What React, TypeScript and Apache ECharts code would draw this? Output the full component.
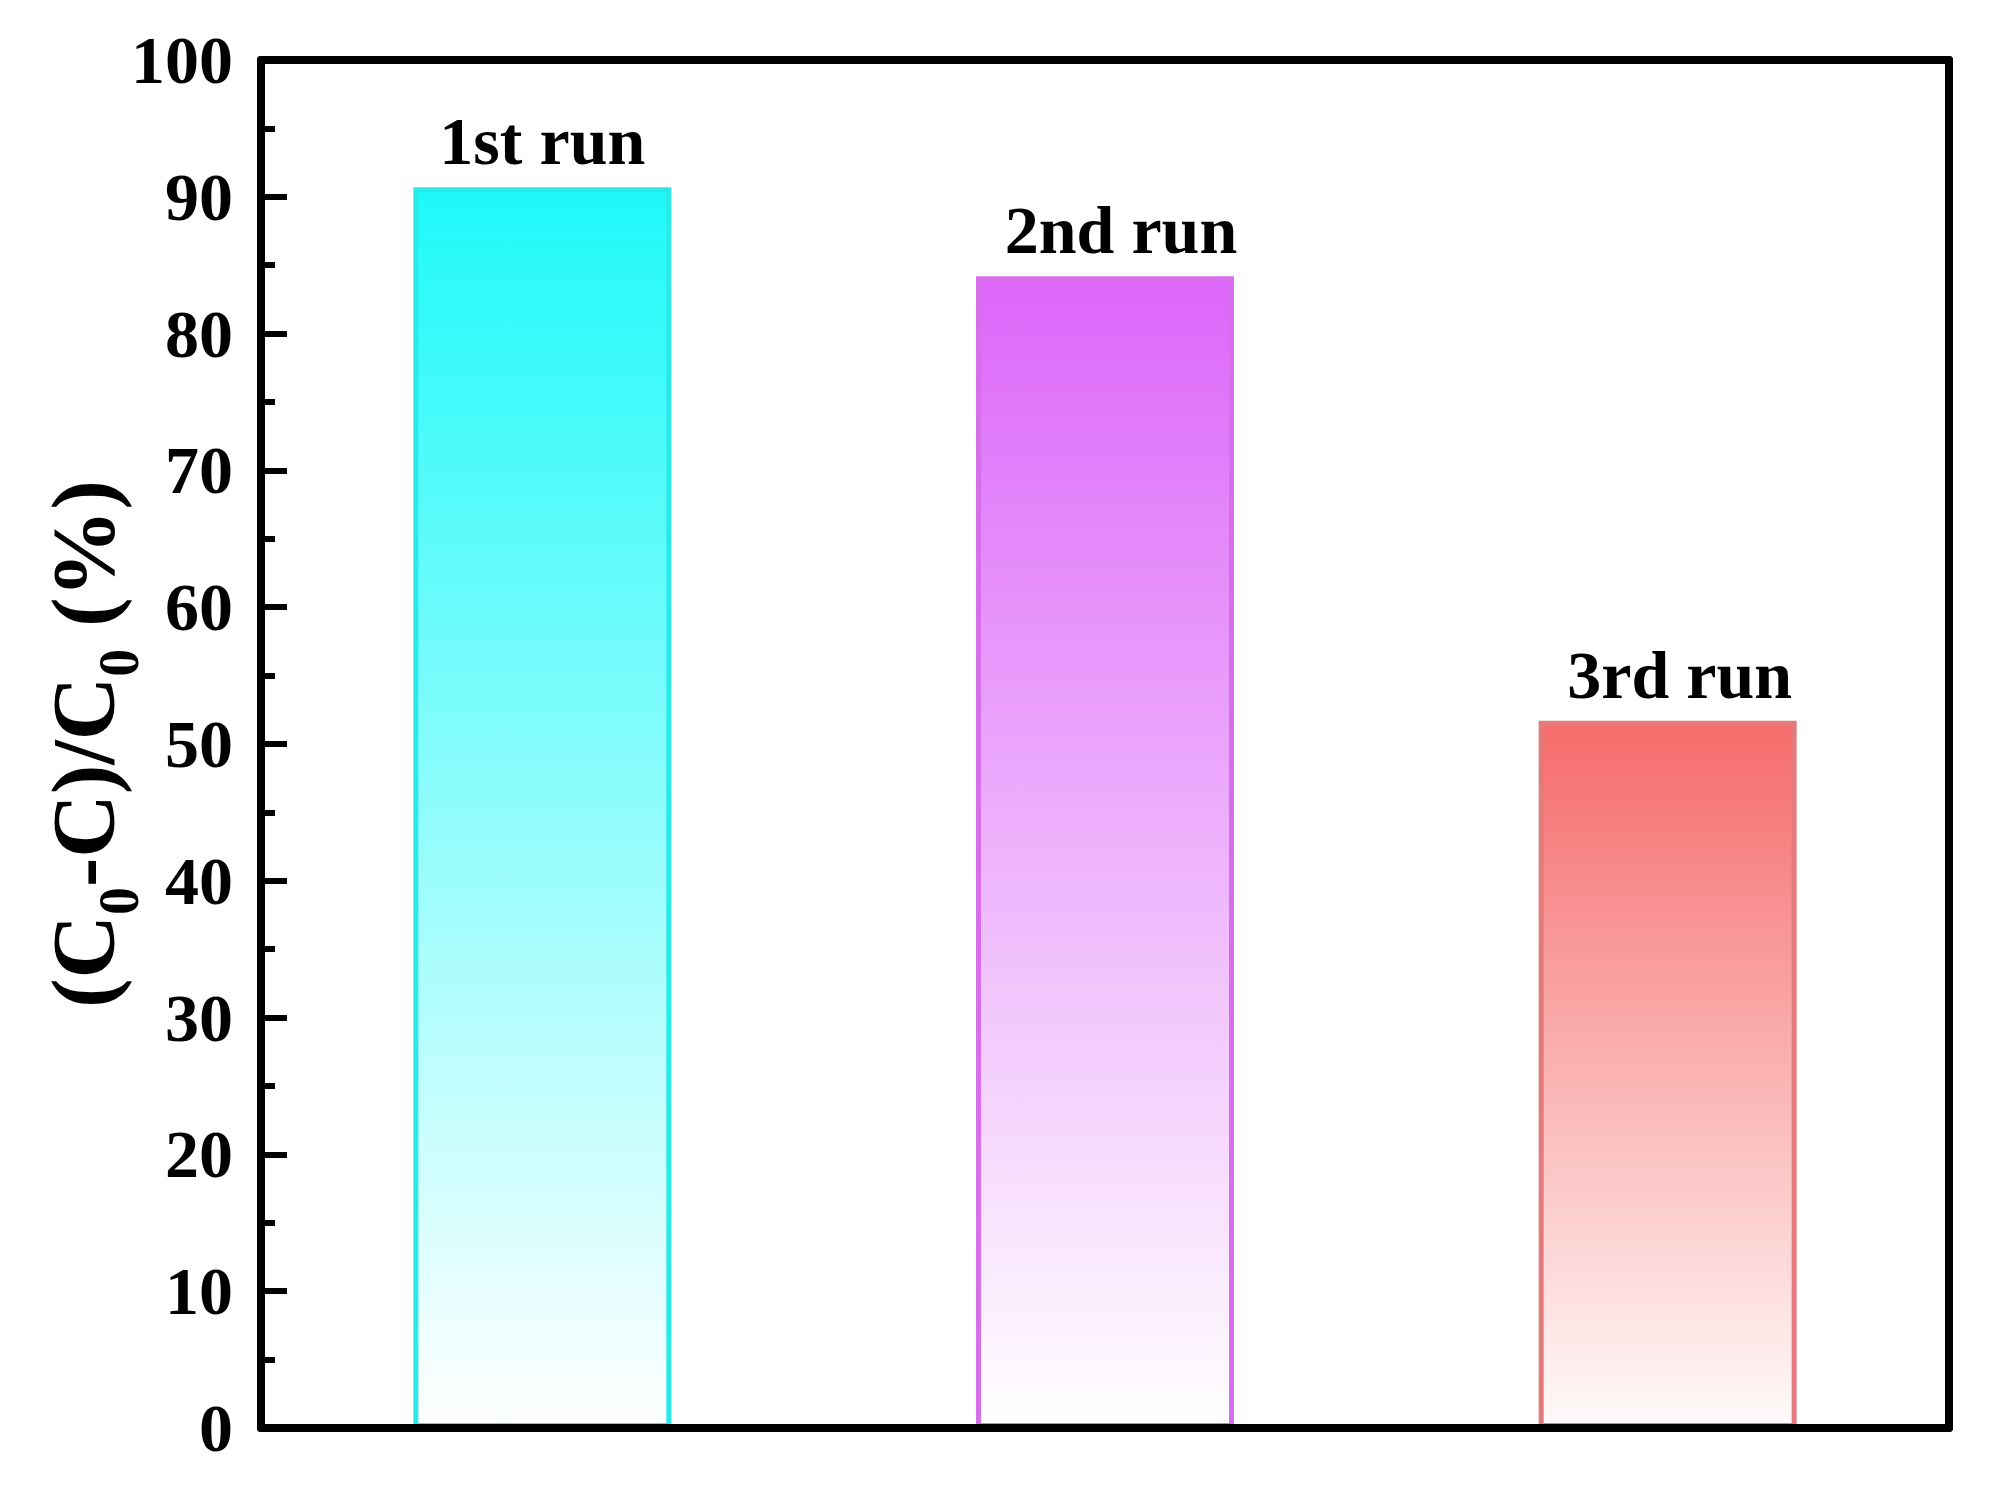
import React, { useEffect, useRef } from "react";
import * as echarts from "echarts";

const categories = ["1st run", "2nd run", "3rd run"];
const removal = [90.7, 84.2, 51.7];
const yTicks = { min: 0, max: 100, interval: 10 };

const topColors = ["#1ef9f9", "#dc66f9", "#f66b6b"];
const bottomColors = ["#ffffff", "#ffffff", "#fffafa"];
const borderColors = ["#2ae9e9", "#d66fe9", "#e27b7b"];
const labelShift = [0, 16, 12];

const FONT = "'Liberation Serif', 'Times New Roman', serif";

export default function App() {
  const ref = useRef<HTMLDivElement>(null);
  useEffect(() => {
    if (!ref.current) return;
    const chart = echarts.init(ref.current, undefined, { renderer: "svg" });
    const data = removal.map((v, i) => ({
      value: v,
      label: { offset: [labelShift[i], 0] },
      itemStyle: {
        color: new echarts.graphic.LinearGradient(0, 0, 0, 1, [
          { offset: 0, color: topColors[i] },
          { offset: 1, color: bottomColors[i] },
        ]),
        borderColor: borderColors[i],
        borderWidth: 5,
      },
    }));
    const frameLine = { show: true, onZero: false, lineStyle: { color: "#000", width: 8 } };
    chart.setOption({
      animation: false,
      backgroundColor: "#ffffff",
      grid: { left: 261, right: 46, top: 60, bottom: 60 },
      xAxis: [
        {
          type: "category",
          data: categories,
          z: 10,
          axisLine: frameLine,
          axisTick: { show: false },
          axisLabel: { show: false },
        },
        {
          type: "category",
          position: "top",
          data: categories,
          z: 10,
          axisLine: frameLine,
          axisTick: { show: false },
          axisLabel: { show: false },
        },
      ],
      yAxis: [
        {
          type: "value",
          min: yTicks.min,
          max: yTicks.max,
          interval: yTicks.interval,
          z: 10,
          axisLine: frameLine,
          axisTick: { show: true, inside: true, length: 26, lineStyle: { color: "#000", width: 6 } },
          minorTick: { show: true, splitNumber: 2, length: 14, lineStyle: { color: "#000", width: 6 } },
          splitLine: { show: false },
          axisLabel: {
            color: "#000",
            fontSize: 68,
            fontWeight: "bold",
            fontFamily: FONT,
            margin: 28,
          },
        },
        {
          type: "value",
          position: "right",
          min: yTicks.min,
          max: yTicks.max,
          interval: yTicks.interval,
          z: 10,
          axisLine: frameLine,
          axisTick: { show: false },
          splitLine: { show: false },
          axisLabel: { show: false },
        },
      ],
      series: [
        {
          type: "bar",
          xAxisIndex: 0,
          yAxisIndex: 0,
          barWidth: 258,
          data,
          label: {
            show: true,
            position: "top",
            distance: 12,
            formatter: "{b}",
            color: "#000",
            fontSize: 68,
            fontWeight: "bold",
            fontFamily: FONT,
          },
        },
      ],
      graphic: [
        {
          type: "text",
          x: 83,
          y: 744,
          rotation: Math.PI / 2,
          style: {
            text: "(C{s|0}-C)/C{s|0} (%)",
            fontSize: 88,
            fontWeight: "bold",
            fontFamily: FONT,
            fill: "#000",
            align: "center",
            verticalAlign: "middle",
            rich: {
              s: {
                fontSize: 56,
                fontWeight: "bold",
                fontFamily: FONT,
                fill: "#000",
                padding: [72, 0, 0, 0],
                verticalAlign: "bottom",
              },
            },
          },
        },
      ],
    });
    return () => chart.dispose();
  }, []);
  return (
    <div
      ref={ref}
      style={{ position: "fixed", left: 0, top: 0, width: 1995, height: 1488 }}
    />
  );
}
